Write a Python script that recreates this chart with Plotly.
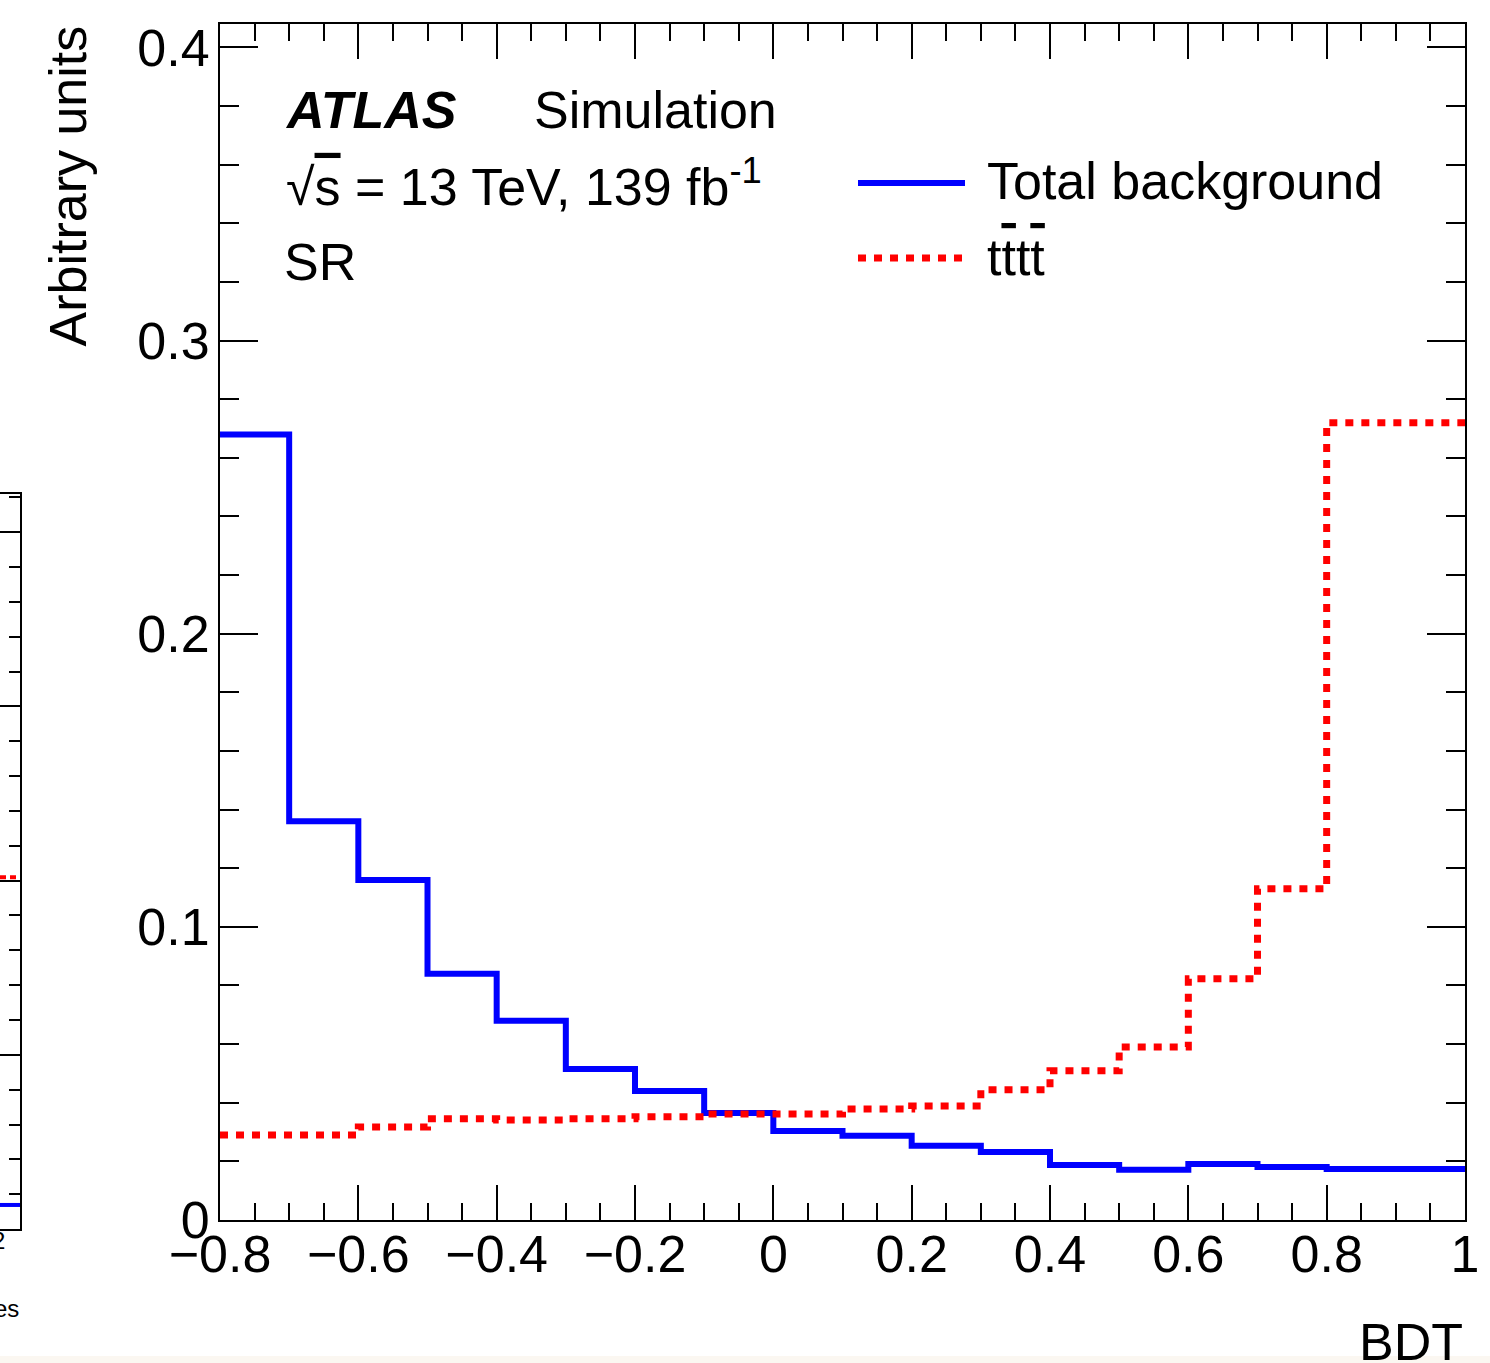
import plotly.graph_objects as go

# ---- data ----
bin_edges = [-0.8, -0.7, -0.6, -0.5, -0.4, -0.3, -0.2, -0.1, 0.0,
             0.1, 0.2, 0.3, 0.4, 0.5, 0.6, 0.7, 0.8, 0.9, 1.0]
total_background = [0.268, 0.136, 0.116, 0.084, 0.068, 0.0515, 0.044, 0.0365, 0.0304,
                    0.0287, 0.0253, 0.0232, 0.0188, 0.0171, 0.0191, 0.0181, 0.0174, 0.0174]
tttt = [0.029, 0.029, 0.0317, 0.0345, 0.0341, 0.0345, 0.0352, 0.0362, 0.0362,
        0.0379, 0.0389, 0.0444, 0.0509, 0.059, 0.0823, 0.113, 0.272, 0.272]
series_names = ["Total background",
                "t<span style='text-decoration:overline'>t</span>t<span style='text-decoration:overline'>t</span>"]

# fragment of the neighbouring panel visible at the left edge
neighbour_x = [0.0, 1.0]
neighbour_background = [0.138, 0.138]
neighbour_tttt = [2.02, 2.02]

FONT = "Liberation Sans"
FS = 52
W, H = 1490, 1363

def px(x):
    return x / W

def py(y):
    return (H - y) / H

fig = go.Figure()
fig.add_trace(go.Scatter(x=bin_edges, y=total_background + [total_background[-1]],
                         mode="lines", line=dict(shape="hv", color="#0000ff", width=6),
                         name=series_names[0], showlegend=False, xaxis="x", yaxis="y"))
fig.add_trace(go.Scatter(x=bin_edges, y=tttt + [tttt[-1]],
                         mode="lines", line=dict(shape="hv", color="#ff0000", width=7, dash="8px,8px"),
                         name="tttt", showlegend=False, xaxis="x", yaxis="y"))
fig.add_trace(go.Scatter(x=neighbour_x, y=neighbour_background, mode="lines",
                         line=dict(color="#0000ff", width=4), showlegend=False,
                         xaxis="x2", yaxis="y2", hoverinfo="skip"))
fig.add_trace(go.Scatter(x=neighbour_x, y=neighbour_tttt, mode="lines",
                         line=dict(color="#ff0000", width=4, dash="6px,4px"), showlegend=False,
                         xaxis="x2", yaxis="y2", hoverinfo="skip"))

axis_common = dict(showline=True, linecolor="black", linewidth=2, mirror="ticks",
                   ticks="inside", tickcolor="black", tickwidth=2, showgrid=False,
                   zeroline=False, automargin=False,
                   tickfont=dict(family=FONT, size=FS, color="black"))

fig.update_layout(
    xaxis=dict(domain=[px(220), px(1465)], anchor="y",
               range=[-0.8, 1.0], tick0=-0.8, dtick=0.2, ticklen=35, ticklabelstandoff=-12,
               minor=dict(dtick=0.05, ticks="inside", ticklen=17, tickwidth=2, tickcolor="black"),
               **axis_common),
    yaxis=dict(domain=[py(1220), py(24)], anchor="x",
               range=[0, 0.408], tick0=0, dtick=0.1, ticklen=38, ticklabelstandoff=-2,
               minor=dict(dtick=0.02, ticks="inside", ticklen=19, tickwidth=2, tickcolor="black"),
               **axis_common),
    xaxis2=dict(domain=[0, px(20)], anchor="y2", range=[0, 1], showline=True, mirror=True,
                linecolor="black", linewidth=2, ticks="", showticklabels=False,
                showgrid=False, zeroline=False, automargin=False),
    yaxis2=dict(domain=[py(1229), py(494)], anchor="x2", side="right", range=[0, 4.22],
                showline=True, linecolor="black", linewidth=2, ticks="inside", ticklen=30,
                tickwidth=2, tickcolor="black", dtick=1, showticklabels=False,
                minor=dict(dtick=0.2, ticks="inside", ticklen=11, tickwidth=2, tickcolor="black"),
                showgrid=False, zeroline=False, automargin=False),
)

ann = []
ann.append(dict(text="<b><i>ATLAS</i></b>", x=px(283), y=py(110), xanchor="left", yanchor="middle"))
ann.append(dict(text="Simulation", x=px(532), y=py(110), xanchor="left", yanchor="middle"))
ann.append(dict(text="√<span style='text-decoration:overline'>s</span> = 13 TeV, 139 fb<sup>-1</sup>",
                x=px(284), y=py(183), xanchor="left", yanchor="middle"))
ann.append(dict(text="SR", x=px(282), y=py(262), xanchor="left", yanchor="middle"))
ann.append(dict(text=series_names[0], x=px(985), y=py(181), xanchor="left", yanchor="middle"))
ann.append(dict(text=series_names[1], x=px(985), y=py(257), xanchor="left", yanchor="middle"))
ann.append(dict(text="BDT", x=px(1465), y=py(1342), xanchor="right", yanchor="middle"))
ann.append(dict(text="Arbitrary units", x=px(67), y=py(24), xanchor="center", yanchor="top", textangle=-90))
for a in ann:
    a.update(xref="paper", yref="paper", showarrow=False,
             font=dict(family=FONT, size=FS, color="black"))
# neighbouring-panel text fragments
for t, x, y in [("es", 21, 1308), ("2", 7, 1240)]:
    ann.append(dict(text=t, x=px(x), y=py(y), xref="paper", yref="paper", showarrow=False,
                    xanchor="right", yanchor="middle",
                    font=dict(family=FONT, size=24, color="black")))

shapes = [
    dict(type="line", xref="paper", yref="paper", x0=px(858), x1=px(965), y0=py(183), y1=py(183),
         line=dict(color="#0000ff", width=6)),
    dict(type="line", xref="paper", yref="paper", x0=px(858), x1=px(965), y0=py(258), y1=py(258),
         line=dict(color="#ff0000", width=7, dash="8px,8px")),
    dict(type="rect", xref="paper", yref="paper", x0=0, x1=1, y0=0, y1=py(1356),
         fillcolor="rgba(250,243,235,0.7)", line=dict(width=0), layer="above"),
]

fig.update_layout(width=W, height=H, margin=dict(l=0, r=0, t=0, b=0, pad=0, autoexpand=False),
                  plot_bgcolor="white", paper_bgcolor="white",
                  annotations=ann, shapes=shapes, showlegend=False)

fig.write_html("out.html")
